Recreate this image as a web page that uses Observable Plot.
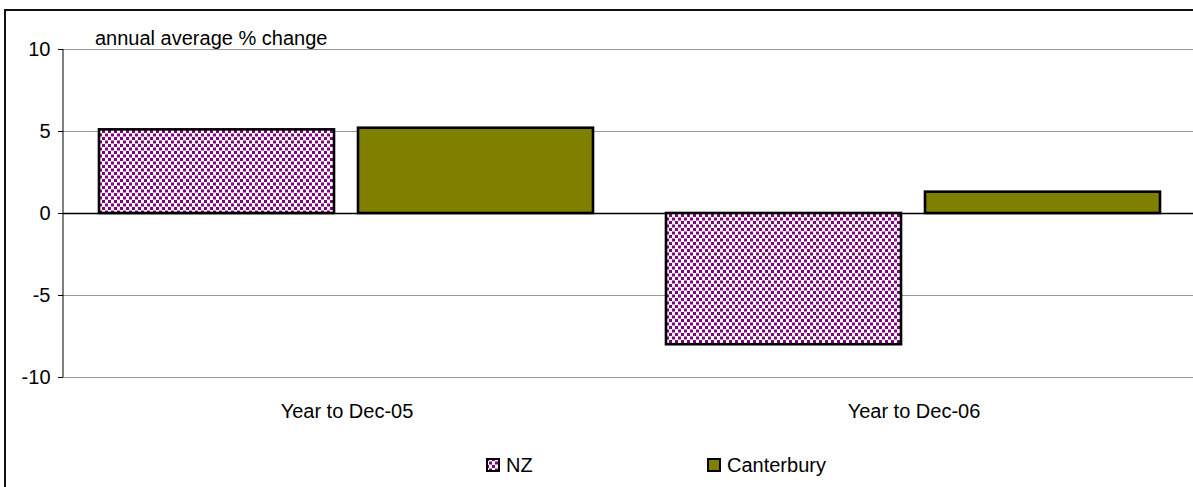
<!DOCTYPE html>
<html>
<head>
<meta charset="utf-8">
<script src="https://cdn.jsdelivr.net/npm/d3@7"></script>
<script src="https://cdn.jsdelivr.net/npm/@observablehq/plot@0.6"></script>
<style>
  html, body { margin: 0; padding: 0; background: #fff; overflow: hidden; width: 1193px; height: 487px; }
  body { font-family: "Liberation Sans", Arial, sans-serif; color: #000; position: relative; }
  #frame { position: absolute; left: 4px; top: 9px; width: 1400px; height: 700px; border-left: 2px solid #111; border-top: 2px solid #111; }
  #chart { position: absolute; left: 6px; top: 11px; width: 1200px; }
  #chart svg { max-width: none !important; }
  #ylabel { position: absolute; left: 95px; top: 28px; font-size: 20px; line-height: 20px; white-space: nowrap; }
  #legend { position: absolute; left: 486px; top: 455px; display: flex; font-size: 20px; line-height: 20px; }
  .item { width: 221px; display: flex; align-items: center; white-space: nowrap; }
  .item svg { margin-right: 6px; display: block; }
</style>
</head>
<body>
<div id="frame"></div>
<div id="chart"></div>
<div id="ylabel"></div>
<div id="legend"></div>
<script>
// ---- data ----
const categories = ["Year to Dec-05", "Year to Dec-06"];
const series = ["NZ", "Canterbury"];
const nzValues = [5.1, -8.0];
const canterburyValues = [5.2, 1.3];
const yTicks = [-10, -5, 0, 5, 10];
const yLabel = "annual average % change";
const seriesFills = ["url(#nzDots)", "#808000"];

const table = [];
categories.forEach((c, i) => {
  table.push({category: c, series: series[0], value: nzValues[i]});
  table.push({category: c, series: series[1], value: canterburyValues[i]});
});

// vertical y-axis line: drawn from Plot's own dimensions, in the first facet only
let axisLineDrawn = false;
function leftAxisLine(index, scales, values, dimensions) {
  const g = document.createElementNS("http://www.w3.org/2000/svg", "g");
  if (axisLineDrawn) return g;
  axisLineDrawn = true;
  const [y0, y1] = scales.scales.y.range;
  const line = document.createElementNS("http://www.w3.org/2000/svg", "line");
  line.setAttribute("x1", dimensions.marginLeft);
  line.setAttribute("x2", dimensions.marginLeft);
  line.setAttribute("y1", y0);
  line.setAttribute("y2", y1);
  line.setAttribute("stroke", "#000");
  line.setAttribute("stroke-width", 1);
  g.appendChild(line);
  return g;
}

const chart = Plot.plot({
  width: 1200,
  height: 421,
  marginLeft: 57,
  marginRight: 9,
  marginTop: 38,
  marginBottom: 55,
  facet: {marginTop: 0, marginBottom: 0, marginLeft: 0, marginRight: 0},
  style: {fontFamily: "'Liberation Sans', Arial, sans-serif", fontSize: "20px", color: "#000", background: "transparent", overflow: "visible", maxWidth: "none"},
  fx: {domain: categories, padding: 0, label: null},
  x: {domain: series, paddingInner: 24 / 260, paddingOuter: 36 / 260, axis: null},
  y: {domain: [-10, 10], label: null},
  color: {domain: series, range: seriesFills},
  marks: [
    Plot.gridY(yTicks, {stroke: "#999", strokeOpacity: 1, strokeWidth: 1}),
    Plot.ruleY([0], {stroke: "#000", strokeWidth: 1.3}),
    Plot.barY(table, {fx: "category", x: "series", y: "value", fill: "series", stroke: "#000", strokeWidth: 2.6}),
    leftAxisLine,
    Plot.axisY(yTicks, {tickSize: 5, tickPadding: 8, label: null, tickFormat: d => String(d), stroke: "#000"}),
    Plot.axisFx({anchor: "bottom", tickSize: 0, tickPadding: 26, label: null})
  ]
});

const ns = "http://www.w3.org/2000/svg";
const defs = document.createElementNS(ns, "defs");
defs.innerHTML =
  '<pattern id="nzDots" patternUnits="userSpaceOnUse" width="6" height="7">' +
  '<rect width="6" height="7" fill="#fff"/>' +
  '<rect x="0" y="0" width="3" height="3" fill="#800080"/>' +
  '<rect x="3" y="3.5" width="3" height="3" fill="#800080"/>' +
  '</pattern>';
chart.insertBefore(defs, chart.firstChild);
document.getElementById("chart").appendChild(chart);

document.getElementById("ylabel").textContent = yLabel;

const legend = document.getElementById("legend");
series.forEach((s, i) => {
  const item = document.createElement("div");
  item.className = "item";
  item.innerHTML = `<svg width="14" height="14"><rect x="1" y="1" width="12" height="12" fill="${seriesFills[i]}" stroke="#000" stroke-width="2"/></svg><span></span>`;
  item.querySelector("span").textContent = s;
  legend.appendChild(item);
});
</script>
</body>
</html>
